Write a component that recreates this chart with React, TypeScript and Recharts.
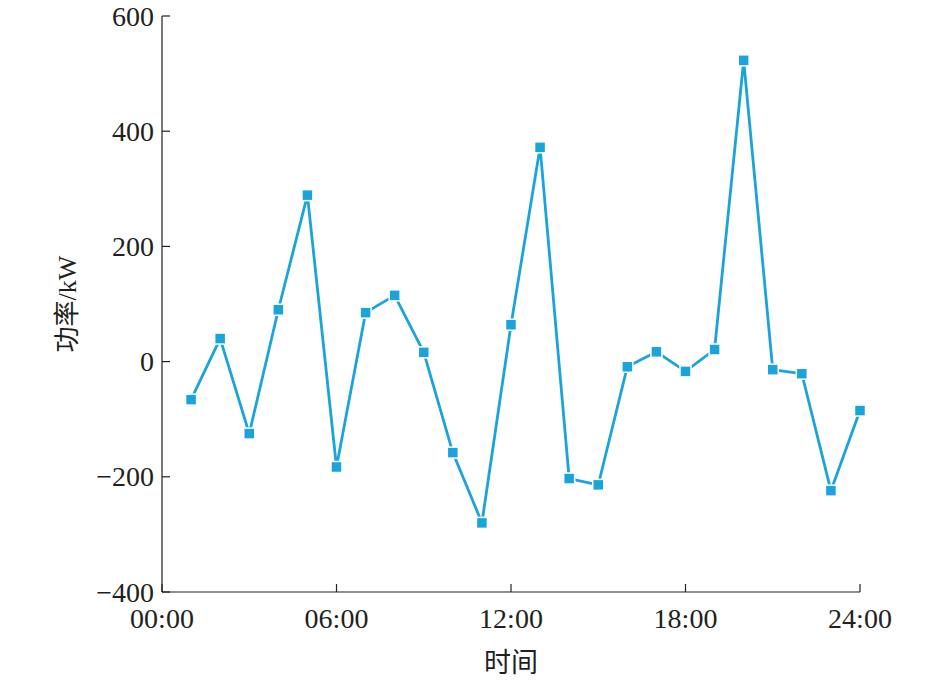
import React from 'react';
import { LineChart, Line, XAxis, YAxis } from 'recharts';

const hours = [1, 2, 3, 4, 5, 6, 7, 8, 9, 10, 11, 12, 13, 14, 15, 16, 17, 18, 19, 20, 21, 22, 23, 24];
const power = [-66, 40, -125, 90, 289, -183, 85, 115, 16, -158, -280, 64, 372, -203, -214, -9, 17, -17, 21, 523, -14, -21, -224, -85];
const xTicks = [0, 6, 12, 18, 24];
const yTicks = [-400, -200, 0, 200, 400, 600];

const data = hours.map((h, i) => ({ hour: h, power: power[i] }));

const INK = '#231f20';
const BLUE = '#1ba3dc';
const FONT = '"Liberation Serif", "Times New Roman", serif';
const MIXED = '"Liberation Serif", "Noto Sans CJK SC", serif';

const fmtHour = (h: number) => `${String(h).padStart(2, '0')}:00`;

const XTick = (props: any) => {
  const { x, y, payload } = props;
  return (
    <g>
      <line x1={x} y1={y} x2={x} y2={y - 8} stroke={INK} strokeWidth={1.2} />
      <text x={x} y={y + 36} textAnchor="middle" fontFamily={FONT} fontSize={28} fill={INK}>
        {fmtHour(payload.value)}
      </text>
    </g>
  );
};

const YTick = (props: any) => {
  const { x, y, payload } = props;
  const v = payload.value;
  return (
    <g>
      <line x1={x} y1={y} x2={x + 8} y2={y} stroke={INK} strokeWidth={1.2} />
      <text x={x - 8} y={y + 9.5} textAnchor="end" fontFamily={FONT} fontSize={28} fill={INK}>
        {v < 0 ? `\u2212${Math.abs(v)}` : v}
      </text>
    </g>
  );
};

const SquareDot = (props: any) => {
  const { cx, cy } = props;
  if (cx == null || cy == null) return null;
  return <rect x={cx - 5.5} y={cy - 5.5} width={11} height={11} fill={BLUE} stroke="#fff" strokeWidth={1.5} />;
};

export default function App() {
  return (
    <div style={{ position: 'absolute', left: 0, top: 0 }}>
      <LineChart width={945} height={680} data={data} margin={{ top: 16, right: 85, bottom: 0, left: 0 }}>
        <XAxis
          dataKey="hour"
          type="number"
          domain={[0, 24]}
          ticks={xTicks}
          interval={0}
          tickSize={0}
          tickMargin={0}
          tickLine={false}
          height={88}
          axisLine={{ stroke: INK, strokeWidth: 1.2 }}
          tick={<XTick />}
          label={{ value: '时间', position: 'insideBottom', offset: 8, fontFamily: MIXED, fontSize: 27, fill: INK }}
        />
        <YAxis
          type="number"
          domain={[-400, 600]}
          ticks={yTicks}
          interval={0}
          tickSize={0}
          tickMargin={0}
          tickLine={false}
          width={162}
          axisLine={{ stroke: INK, strokeWidth: 1.2 }}
          tick={<YTick />}
          label={{ value: '功率/kW', angle: -90, position: 'center', dx: -14, fontFamily: MIXED, fontSize: 26, fill: INK }}
        />
        <Line
          dataKey="power"
          stroke={BLUE}
          strokeWidth={2.8}
          dot={<SquareDot />}
          activeDot={false}
          isAnimationActive={false}
        />
      </LineChart>
    </div>
  );
}
